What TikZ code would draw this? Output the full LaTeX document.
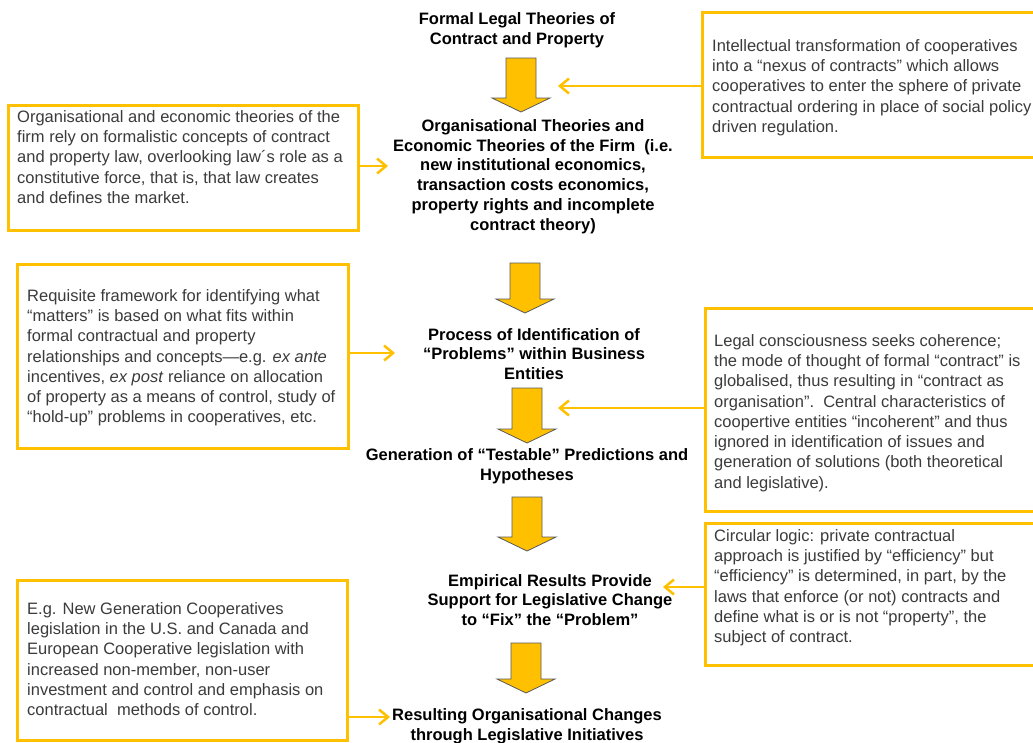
\documentclass[tikz,border=0pt]{standalone}
\usepackage{fontspec}
\setmainfont{Liberation Sans}
\usetikzlibrary{arrows.meta}
\definecolor{gold}{HTML}{FFC000}
\definecolor{ink}{HTML}{3B3B3B}
\definecolor{rim}{HTML}{5A5A5A}
\tikzset{
  panel/.style={draw=gold,line width=3pt,rectangle,inner sep=0pt},
  note/.style={anchor=north west,inner sep=0pt,align=left,text=ink,font=\fontsize{16.5}{20.3}\selectfont},
  stage/.style={inner sep=0pt,align=center,font=\bfseries\fontsize{16.5}{19.8}\selectfont},
  link/.style={draw=gold,line width=2.5pt,-{Straight Barb[length=9pt,width=15pt]}},
}
\newcommand{\blockarrow}[3]{\filldraw[fill=gold,draw=rim,line width=0.8pt,line join=miter]
  (#1-15,#2) -- (#1+15,#2) -- (#1+15,#2+#3-14) -- (#1+29,#2+#3-14) -- (#1,#2+#3)
  -- (#1-29,#2+#3-14) -- (#1-15,#2+#3-14) -- cycle;}
\begin{document}
\begin{tikzpicture}[x=1pt,y=-1pt,line cap=butt]
  \useasboundingbox[fill=white] (0,0) rectangle (1033,742);
  \node[stage] (formT) at (517,30) {Formal Legal Theories of\\Contract and Property};
  \node[stage] (orgT) at (533,176.5) {Organisational Theories and\\Economic Theories of the Firm~~(i.e.\\new institutional economics,\\transaction costs economics,\\property rights and incomplete\\contract theory)};
  \node[stage] (procT) at (534,354) {Process of Identification of\\“Problems” within Business\\Entities};
  \node[stage] (genT) at (527,466.5) {Generation of “Testable” Predictions and\\Hypotheses};
  \node[stage] (empT) at (550,600) {Empirical Results Provide\\Support for Legislative Change\\to “Fix” the “Problem”};
  \node[stage] (resT) at (527,726) {Resulting Organisational Changes\\through Legislative Initiatives};
  \blockarrow{521}{58}{54} \blockarrow{525}{263}{50} \blockarrow{527}{388}{55}
  \blockarrow{527}{497}{54} \blockarrow{526}{643}{50}
  \node[panel,minimum width=343pt,minimum height=145pt] (rbox1) at (873.5,84.5) {};
  \node[panel,minimum width=350pt,minimum height=125pt] (lbox1) at (183,167.5) {};
  \node[panel,minimum width=331pt,minimum height=184pt] (lbox2) at (182.5,356) {};
  \node[panel,minimum width=340pt,minimum height=203pt] (rbox2) at (875,409.5) {};
  \node[panel,minimum width=340pt,minimum height=142pt] (rbox3) at (875,594) {};
  \node[panel,minimum width=330pt,minimum height=160pt] (lbox3) at (182,660) {};
  \node[note] (rtxt1) at (712,39) {Intellectual transformation of cooperatives\\into a “nexus of contracts” which allows\\cooperatives to enter the sphere of private\\contractual ordering in place of social policy\\driven regulation.};
  \node[note] (ltxt1) at (17,110) {Organisational and economic theories of the\\firm rely on formalistic concepts of contract\\and property law, overlooking law´s role as a\\constitutive force, that is, that law creates\\and defines the market.};
  \node[note] (ltxt2) at (27,289) {Requisite framework for identifying what\\“matters” is based on what fits within\\formal contractual and property\\relationships and concepts—e.g. \textit{ex ante}\\incentives, \textit{ex post} reliance on allocation\\of property as a means of control, study of\\“hold-up” problems in cooperatives, etc.};
  \node[note] (rtxt2) at (714,334) {Legal consciousness seeks coherence;\\the mode of thought of formal “contract” is\\globalised, thus resulting in “contract as\\organisation”.~~Central characteristics of\\coopertive entities “incoherent” and thus\\ignored in identification of issues and\\generation of solutions (both theoretical\\and legislative).};
  \node[note] (rtxt3) at (714,529) {Circular logic: private contractual\\approach is justified by “efficiency” but\\“efficiency” is determined, in part, by the\\laws that enforce (or not) contracts and\\define what is or is not “property”, the\\subject of contract.};
  \node[note] (ltxt3) at (27,602) {E.g. New Generation Cooperatives\\legislation in the U.S. and Canada and\\European Cooperative legislation with\\increased non-member, non-user\\investment and control and emphasis on\\contractual~~methods of control.};
  \coordinate (arrIn1) at (558,86); \coordinate (arrIn3) at (558,408);
  \coordinate (orgIn) at (388,166); \coordinate (procIn) at (395,353);
  \coordinate (empIn) at (663,587); \coordinate (resIn) at (390,717);
  \draw[link] (rbox1.west |- arrIn1) -- (arrIn1);
  \draw[link] (lbox1.east |- orgIn) -- (orgIn);
  \draw[link] (lbox2.east |- procIn) -- (procIn);
  \draw[link] (rbox2.west |- arrIn3) -- (arrIn3);
  \draw[link] (rbox3.west |- empIn) -- (empIn);
  \draw[link] (lbox3.east |- resIn) -- (resIn);
\end{tikzpicture}
\end{document}
